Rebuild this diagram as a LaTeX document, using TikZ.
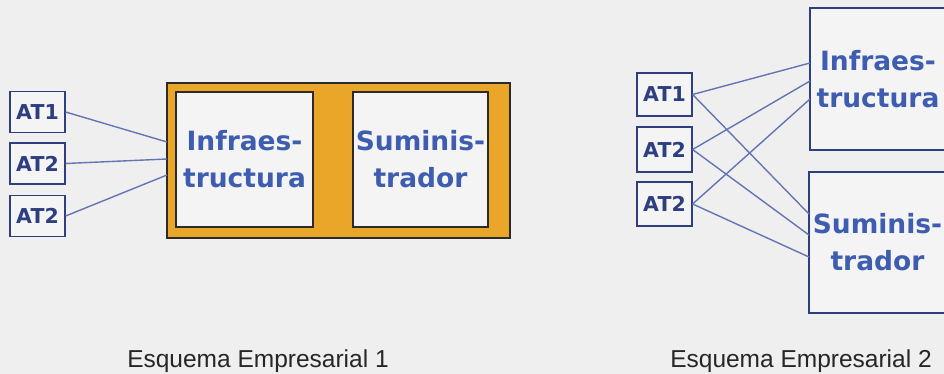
\documentclass[tikz,border=0pt]{standalone}
\usepackage{fontspec}
\setmainfont{Liberation Sans}
\newfontfamily\boxfont{DejaVu Sans}
\definecolor{bgc}{HTML}{EFEFEF}
\definecolor{boxin}{HTML}{F4F4F4}
\definecolor{orng}{HTML}{E9A628}
\definecolor{txtblue}{HTML}{3E5DB0}
\definecolor{atblue}{HTML}{2E3F80}
\definecolor{lnblue}{HTML}{6475B4}
\definecolor{edge}{HTML}{2B2B2B}
\begin{document}
\begin{tikzpicture}[x=1pt,y=-1pt,
  atbox/.style={draw=atblue,line width=1.2pt,fill=boxin,minimum width=55pt,minimum height=41pt,inner sep=0pt,
    font=\boxfont\bfseries\fontsize{20.5}{22}\selectfont,text=atblue},
  bigbox/.style={draw=edge,line width=1.3pt,fill=boxin,inner sep=0pt,align=center,
    font=\boxfont\bfseries\fontsize{26.5}{37}\selectfont,text=txtblue},
  rbox/.style={bigbox,draw=atblue},
  conn/.style={draw=lnblue,line width=1.4pt},
  caption/.style={font=\fontsize{24.5}{28}\selectfont,text=black!85,anchor=base}]
\fill[bgc] (0,0) rectangle (944,374);
\useasboundingbox (0,0) rectangle (944,374);
\clip (0,0) rectangle (944,374);
% ---------- Esquema 1 ----------
\node[draw=edge,line width=1.5pt,fill=orng,minimum width=343pt,minimum height=155pt,inner sep=0pt] (lorange) at (338.5,160.5) {};
\node[bigbox,minimum width=137pt,minimum height=135pt] (linfra) at (244.5,159.5) {Infraes-\\tructura};
\node[bigbox,minimum width=135pt,minimum height=135pt] (lsum) at (420.5,159.5) {Suminis-\\trador};
\node[atbox] (lat1) at (37.5,112) {AT1};
\node[atbox] (lat2) at (37.5,163.5) {AT2};
\node[atbox] (lat3) at (37.5,216) {AT2};
\coordinate (le1) at (167,142);
\coordinate (le2) at (167,159);
\coordinate (le3) at (167,175);
\draw[conn] (lat1.east) -- (le1);
\draw[conn] (lat2.east) -- (le2);
\draw[conn] (lat3.east) -- (le3);
\node[caption] (cap1) at (258,367) {Esquema Empresarial 1};
% ---------- Esquema 2 ----------
\node[rbox,minimum width=136pt,minimum height=142pt] (rinfra) at (878,79) {Infraes-\\tructura};
\node[rbox,minimum width=137pt,minimum height=141pt] (rsum) at (877.5,242.5) {Suminis-\\trador};
\node[atbox,minimum height=43pt] (rat1) at (664.5,94.5) {AT1};
\node[atbox,minimum height=45pt] (rat2) at (664.5,149.5) {AT2};
\node[atbox,minimum height=44pt] (rat3) at (664.5,204) {AT2};
\coordinate (ri1) at (810,63);
\coordinate (ri2) at (810,81);
\coordinate (ri3) at (810,99);
\coordinate (rs1) at (809,214);
\coordinate (rs2) at (809,235);
\coordinate (rs3) at (809,257);
\draw[conn] (rat1.east) -- (ri1);
\draw[conn] (rat2.east) -- (ri2);
\draw[conn] (rat3.east) -- (ri3);
\draw[conn] (rat1.east) -- (rs1);
\draw[conn] (rat2.east) -- (rs2);
\draw[conn] (rat3.east) -- (rs3);
\node[caption] (cap2) at (801,367) {Esquema Empresarial 2};
\end{tikzpicture}
\end{document}
